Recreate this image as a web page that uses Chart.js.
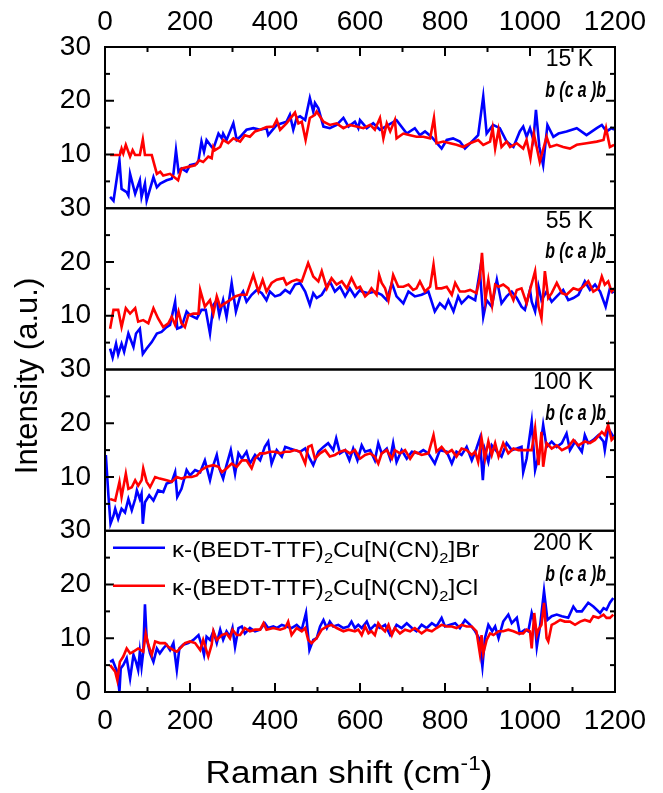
<!DOCTYPE html>
<html>
<head>
<meta charset="utf-8">
<title>Raman spectra - kappa-(BEDT-TTF)2Cu[N(CN)2]X</title>
<script src="https://cdn.jsdelivr.net/npm/chart.js@4.4.1/dist/chart.umd.min.js"></script>
<style>
  html, body { margin: 0; padding: 0; background: #fff; }
  #wrap { width: 663px; height: 793px; position: relative; }
</style>
</head>
<body>
<div id="wrap"><canvas id="ramanChart"></canvas></div>
<script>
// [Raman shift (cm-1), intensity (a.u.)], one array per panel and salt
const br15 = [[12,2.1],[20,1.4],[34,8.9],[39,3.6],[51,3.0],[55,2.4],[59,6.4],[71,2.7],[82,5.2],[86,2.1],[94,4.6],[98,1.4],[114,5.8],[122,3.9],[130,4.6],[145,5.2],[157,5.5],[161,6.4],[167,10.8],[173,6.8],[180,7.4],[192,6.8],[200,8.0],[216,8.3],[220,8.9],[227,12.4],[233,10.5],[239,12.7],[251,11.4],[255,11.1],[267,13.9],[275,13.0],[278,13.9],[286,12.7],[302,15.8],[310,12.7],[318,13.3],[333,14.6],[349,14.9],[365,14.6],[380,14.9],[384,13.6],[404,15.5],[427,16.1],[435,17.4],[443,14.6],[451,16.8],[459,17.1],[471,16.4],[482,20.5],[490,18.0],[494,19.6],[502,18.6],[514,15.2],[529,14.9],[545,15.5],[561,16.8],[573,15.2],[588,16.1],[596,14.9],[600,16.4],[616,14.9],[631,15.8],[647,14.6],[667,15.5],[686,16.4],[710,13.9],[729,14.9],[741,13.6],[753,14.3],[768,13.3],[792,11.1],[804,12.7],[819,13.0],[835,12.4],[847,11.1],[867,12.7],[878,13.6],[890,20.8],[898,13.9],[913,15.5],[929,14.9],[945,12.4],[961,11.4],[976,14.3],[984,15.2],[992,13.3],[1000,14.9],[1008,12.7],[1014,18.3],[1022,11.4],[1031,8.0],[1041,15.5],[1055,13.3],[1067,13.9],[1086,14.3],[1110,14.9],[1133,13.6],[1157,14.9],[1169,15.5],[1180,14.3],[1192,14.9],[1198,14.6]];
const cl15 = [[12,9.9],[35,9.9],[39,11.1],[43,10.2],[49,11.8],[59,9.6],[65,10.8],[71,9.9],[82,9.9],[89,12.8],[94,9.9],[110,9.9],[122,6.4],[130,6.8],[137,6.1],[153,6.4],[172,5.2],[180,7.4],[196,7.7],[212,8.0],[222,8.9],[231,8.6],[243,9.6],[251,9.3],[255,11.4],[259,10.8],[271,11.4],[278,12.7],[290,12.1],[302,13.0],[318,12.4],[329,13.6],[341,13.3],[353,14.3],[365,14.6],[380,15.1],[396,15.2],[404,16.4],[412,14.6],[427,15.8],[447,17.8],[455,15.8],[463,16.1],[472,12.7],[482,16.8],[494,17.4],[498,18.0],[514,16.1],[529,15.5],[545,15.8],[561,14.9],[576,15.5],[592,15.2],[608,14.9],[624,15.5],[635,14.6],[647,16.8],[655,13.0],[663,15.8],[671,14.3],[682,16.4],[686,13.0],[702,13.9],[718,13.6],[733,13.3],[749,13.3],[765,13.0],[774,16.8],[780,12.1],[796,12.4],[812,12.1],[827,11.8],[843,11.4],[859,12.1],[878,12.7],[890,11.8],[906,12.4],[912,14.9],[918,11.1],[926,14.6],[933,11.4],[945,12.4],[953,11.4],[969,12.1],[984,11.1],[992,12.7],[1001,9.3],[1009,13.9],[1023,8.6],[1039,13.3],[1047,11.4],[1063,11.8],[1078,11.4],[1094,11.1],[1110,11.8],[1133,12.1],[1157,12.4],[1173,12.7],[1179,14.9],[1188,11.4],[1198,11.8]];
const br55 = [[12,3.9],[18,2.2],[26,4.8],[31,2.8],[39,4.8],[45,3.3],[55,6.7],[67,4.2],[73,6.7],[82,7.6],[89,2.9],[98,3.9],[110,5.1],[122,6.7],[133,7.0],[145,7.9],[153,8.3],[165,12.6],[170,7.6],[180,7.9],[192,10.8],[200,10.1],[216,9.5],[227,11.1],[237,11.1],[247,6.7],[255,12.0],[263,12.9],[269,10.1],[278,12.9],[286,9.8],[298,16.1],[308,10.8],[318,13.6],[325,14.5],[333,12.6],[345,13.9],[357,14.8],[369,14.2],[380,12.9],[388,14.5],[400,13.6],[412,13.9],[424,14.8],[435,14.2],[447,15.8],[459,16.1],[471,14.5],[482,12.0],[490,14.2],[498,13.3],[510,13.9],[529,16.4],[541,14.5],[553,15.4],[565,13.6],[576,15.1],[588,13.6],[600,14.8],[604,14.5],[620,14.2],[635,14.5],[651,13.9],[663,12.9],[675,16.1],[686,13.6],[702,12.3],[714,14.5],[729,13.6],[745,13.9],[761,14.5],[776,10.8],[788,12.3],[800,11.4],[808,12.9],[820,10.8],[831,13.6],[839,12.3],[855,13.6],[871,12.9],[882,18.3],[890,9.8],[898,12.9],[910,11.7],[922,16.7],[933,12.3],[945,13.6],[957,14.5],[969,13.3],[980,11.7],[988,11.1],[1000,14.8],[1004,12.6],[1012,10.8],[1020,15.4],[1027,12.9],[1039,14.5],[1051,12.6],[1063,13.6],[1078,14.8],[1090,12.9],[1102,13.3],[1114,13.9],[1129,16.4],[1141,14.8],[1153,15.8],[1165,14.5],[1178,11.7],[1188,15.1],[1196,14.2]];
const cl55 = [[12,7.6],[20,11.1],[31,11.1],[39,7.9],[49,11.4],[59,10.4],[71,11.4],[78,8.9],[90,9.2],[102,8.6],[114,11.4],[125,9.5],[137,7.9],[149,8.6],[157,9.8],[165,8.3],[173,10.8],[180,8.6],[188,7.9],[196,10.1],[208,10.4],[220,10.4],[224,14.8],[235,11.7],[247,12.9],[255,10.4],[263,13.6],[271,11.7],[282,12.3],[294,12.9],[306,13.6],[318,13.9],[333,13.9],[349,17.6],[361,14.5],[371,16.7],[380,14.5],[392,16.1],[404,16.7],[420,17.0],[427,15.8],[439,16.4],[451,16.7],[463,16.4],[478,19.8],[490,17.3],[502,16.4],[510,18.3],[522,15.1],[533,17.0],[545,15.8],[557,16.4],[569,15.1],[580,17.0],[592,15.1],[600,15.4],[612,13.6],[620,14.2],[627,15.1],[639,13.9],[645,17.6],[651,16.1],[659,15.1],[667,12.9],[678,17.6],[690,15.4],[702,15.4],[714,15.8],[725,14.8],[733,15.1],[741,16.4],[753,14.5],[765,15.4],[773,19.5],[780,15.1],[792,15.1],[804,15.4],[816,13.9],[824,16.1],[835,14.5],[847,14.5],[859,14.8],[874,14.2],[882,17.0],[887,21.7],[895,12.9],[902,16.7],[911,12.0],[918,15.8],[926,15.4],[937,15.8],[949,15.1],[961,12.9],[969,14.8],[980,15.1],[992,12.3],[1000,14.8],[1012,18.3],[1020,11.7],[1027,9.5],[1035,18.3],[1043,13.3],[1051,14.2],[1063,16.1],[1075,14.2],[1086,13.9],[1102,15.1],[1114,14.8],[1125,15.4],[1137,16.4],[1149,14.5],[1161,15.1],[1169,17.3],[1176,15.8],[1184,16.4],[1192,14.5],[1199,15.1]];
const br100 = [[2,14.1],[8,6.6],[13,1.3],[20,2.8],[24,4.1],[31,2.2],[39,4.1],[47,3.4],[55,5.9],[63,3.8],[71,5.9],[75,7.5],[82,5.9],[86,6.9],[89,1.3],[94,5.3],[104,6.6],[114,5.6],[125,7.5],[137,7.2],[145,8.8],[157,9.1],[165,10.9],[170,6.3],[180,7.8],[192,11.3],[200,10.3],[212,11.3],[224,10.9],[235,13.1],[247,9.4],[255,12.2],[263,14.1],[269,11.6],[278,9.7],[286,12.2],[296,15.0],[306,10.6],[314,14.4],[322,13.4],[333,14.7],[341,12.5],[353,14.1],[365,13.1],[376,15.6],[384,16.6],[392,12.5],[404,15.0],[416,13.8],[424,15.6],[435,15.3],[447,15.0],[459,14.7],[471,15.3],[482,13.4],[490,12.2],[502,14.7],[514,15.6],[525,16.3],[537,15.0],[544,17.2],[553,14.4],[565,15.0],[575,13.1],[584,15.3],[594,13.1],[604,15.9],[612,14.7],[624,15.0],[635,13.1],[643,16.3],[651,14.4],[663,15.3],[671,13.4],[678,16.3],[686,12.8],[698,15.0],[710,13.4],[722,14.7],[737,14.4],[749,15.0],[761,14.4],[776,12.5],[788,15.0],[804,14.7],[816,12.5],[827,14.7],[839,14.1],[851,15.6],[863,13.1],[874,15.3],[882,17.2],[889,9.4],[894,15.0],[902,12.8],[910,15.9],[922,14.7],[933,13.8],[945,16.3],[957,15.0],[969,15.3],[980,15.6],[984,10.9],[992,13.4],[1004,20.3],[1012,11.3],[1024,15.3],[1031,19.7],[1039,15.6],[1051,16.6],[1063,15.6],[1075,16.3],[1086,18.1],[1094,15.0],[1106,16.6],[1122,14.7],[1129,17.8],[1137,16.3],[1149,16.9],[1161,17.8],[1173,16.6],[1176,15.0],[1184,19.1],[1196,17.5]];
const cl100 = [[12,5.9],[24,5.6],[34,9.1],[39,6.3],[49,10.6],[55,7.8],[63,8.1],[71,9.4],[78,8.4],[86,9.4],[90,11.6],[98,9.1],[106,8.1],[118,10.0],[129,9.7],[145,9.4],[157,9.1],[169,10.0],[180,9.7],[192,10.0],[204,10.0],[216,10.3],[227,11.3],[239,11.9],[255,12.2],[267,11.9],[275,10.9],[286,11.6],[298,12.5],[310,11.9],[322,13.1],[333,13.1],[345,11.6],[353,13.4],[365,14.4],[376,14.4],[388,14.7],[400,14.7],[412,14.4],[424,14.7],[435,14.7],[447,15.0],[459,14.7],[471,12.5],[478,15.6],[486,15.9],[494,13.4],[506,14.4],[518,15.0],[529,13.8],[541,14.1],[553,14.7],[565,15.0],[576,14.4],[588,15.0],[600,13.4],[612,14.1],[624,14.4],[635,13.8],[643,12.5],[651,14.4],[663,15.0],[675,13.4],[682,15.0],[694,14.4],[706,15.0],[718,13.4],[729,14.7],[745,14.1],[761,14.4],[773,17.8],[780,14.7],[792,15.6],[804,14.4],[816,15.0],[827,13.8],[839,15.3],[851,15.0],[863,14.1],[871,14.7],[878,12.8],[886,17.2],[894,13.4],[902,16.6],[910,14.1],[918,16.3],[926,13.8],[937,16.3],[949,14.4],[961,15.3],[973,15.0],[984,15.0],[996,15.0],[1004,15.0],[1012,19.1],[1020,12.2],[1027,18.4],[1031,11.9],[1039,16.3],[1051,15.3],[1063,15.9],[1075,15.0],[1090,15.6],[1102,16.9],[1114,15.9],[1129,16.6],[1141,16.3],[1153,16.9],[1169,18.4],[1176,17.8],[1184,19.7],[1192,16.9],[1199,17.5]];
const br200 = [[12,5.6],[18,5.9],[24,4.7],[29,3.8],[34,0.0],[37,4.4],[43,5.0],[51,6.3],[59,2.5],[67,6.9],[73,5.6],[78,4.1],[82,7.5],[86,4.7],[90,7.5],[94,16.3],[98,10.0],[106,7.2],[114,5.6],[122,8.1],[129,7.2],[137,8.1],[145,8.8],[153,7.8],[161,9.1],[169,4.1],[175,8.1],[184,8.8],[196,9.1],[208,9.7],[220,10.6],[227,8.8],[233,6.9],[239,10.3],[247,9.7],[255,11.3],[263,9.1],[271,11.6],[278,9.7],[286,11.3],[294,10.3],[300,11.9],[306,8.4],[314,11.9],[322,12.2],[329,10.9],[341,11.9],[353,11.3],[365,11.6],[376,12.8],[384,11.9],[396,12.2],[404,11.9],[416,12.5],[427,12.2],[439,11.9],[451,12.5],[463,11.6],[473,14.7],[481,7.8],[490,9.7],[498,10.0],[506,12.2],[514,13.4],[522,11.9],[529,13.1],[537,12.2],[549,12.5],[561,11.9],[573,12.2],[580,13.1],[588,11.9],[596,12.5],[604,11.9],[616,13.1],[624,11.6],[635,12.5],[647,11.9],[659,12.5],[671,10.6],[678,11.3],[686,12.5],[698,11.9],[710,12.8],[722,11.9],[733,11.3],[745,12.5],[757,11.9],[769,12.8],[780,12.2],[792,13.8],[800,12.2],[812,12.5],[824,12.8],[835,11.9],[847,13.4],[859,12.5],[871,11.3],[880,10.0],[888,4.7],[894,10.0],[902,12.5],[911,11.3],[918,12.2],[926,10.0],[937,13.1],[949,14.4],[957,12.8],[969,13.8],[976,10.9],[988,11.6],[996,11.3],[1004,14.7],[1012,12.5],[1016,8.4],[1024,12.5],[1033,18.8],[1041,13.4],[1051,14.1],[1063,14.4],[1075,14.1],[1090,13.8],[1102,15.9],[1110,15.0],[1122,15.0],[1137,16.6],[1149,15.9],[1165,14.7],[1173,15.6],[1180,15.3],[1188,16.6],[1196,17.5]];
const cl200 = [[12,5.0],[24,3.8],[29,2.2],[35,5.6],[43,6.6],[51,8.1],[59,7.2],[67,7.5],[78,8.1],[90,7.5],[96,10.9],[102,8.8],[110,6.9],[118,9.4],[129,9.1],[141,9.1],[149,8.4],[161,7.8],[169,7.5],[180,8.4],[188,9.1],[200,9.4],[212,9.1],[224,7.8],[231,9.7],[243,6.6],[251,8.8],[255,11.3],[263,9.7],[275,10.6],[286,10.9],[294,10.0],[300,11.6],[310,10.6],[318,10.6],[329,11.9],[341,11.3],[353,11.6],[365,11.6],[373,12.8],[380,11.6],[396,11.9],[412,11.6],[424,11.9],[431,13.1],[439,10.6],[451,11.9],[463,11.3],[471,11.9],[478,9.7],[486,9.1],[498,10.0],[510,11.6],[522,12.2],[533,12.5],[545,11.9],[561,11.3],[573,11.6],[588,11.3],[596,11.6],[604,10.6],[612,12.2],[620,10.9],[627,11.3],[635,10.6],[643,12.8],[651,11.9],[659,11.3],[667,12.5],[675,10.6],[682,11.9],[694,10.9],[706,11.6],[718,11.3],[729,11.9],[745,10.9],[757,11.6],[769,11.3],[780,11.9],[792,12.5],[804,12.2],[816,12.2],[827,11.9],[839,12.5],[851,12.2],[863,12.2],[874,11.3],[882,7.2],[886,10.6],[890,7.2],[898,9.7],[906,10.9],[914,10.6],[926,11.3],[937,11.3],[949,11.6],[961,11.3],[973,10.9],[984,10.9],[992,11.6],[1000,11.3],[1004,8.1],[1010,14.7],[1016,10.6],[1020,11.6],[1027,12.5],[1033,16.6],[1039,10.0],[1043,9.4],[1051,12.5],[1059,12.8],[1071,13.4],[1082,13.1],[1094,13.1],[1106,12.5],[1118,13.1],[1129,13.4],[1141,13.1],[1149,14.1],[1161,13.8],[1173,14.4],[1180,13.8],[1188,13.8],[1196,14.4]];

const panelIds = ['y15', 'y55', 'y100', 'y200'];          // top to bottom
const panelTemps = ['15 K', '55 K', '100 K', '200 K'];
const panelSeries = [[br15, cl15], [br55, cl55], [br100, cl100], [br200, cl200]];
const geometry = 'b (c a )b';
const xTickValues = [0, 200, 400, 600, 800, 1000, 1200];
const yTickValues = [0, 10, 20, 30];
const brName = ['κ-(BEDT-TTF)', '2', 'Cu[N(CN)', '2', ']Br'];   // odd parts are subscripts
const clName = ['κ-(BEDT-TTF)', '2', 'Cu[N(CN)', '2', ']Cl'];

const FONT = '"Liberation Sans", Arial, sans-serif';
const BLUE = '#0000ff';
const RED = '#ff0000';

Chart.defaults.font.family = FONT;
Chart.defaults.color = '#000';

function makeSet(points, axisId, color, order) {
    return {
        data: points.map(p => ({ x: p[0], y: p[1] })),
        xAxisID: 'x',
        yAxisID: axisId,
        borderColor: color,
        borderWidth: 2.6,
        pointRadius: 0,
        tension: 0,
        fill: false,
        order: order
    };
}

const datasets = [];
panelIds.forEach((id, i) => {
    datasets.push(makeSet(panelSeries[i][0], id, BLUE, 1));
    datasets.push(makeSet(panelSeries[i][1], id, RED, 0));   // red sits on top of blue
});

function xAxis(pos, boxHeight, pad) {
    return {
        type: 'linear', position: pos, min: 0, max: 1200,
        grid: { display: false, drawTicks: false },
        border: { display: false },
        afterBuildTicks: s => { s.ticks = xTickValues.map(v => ({ value: v })); },
        ticks: { autoSkip: false, maxRotation: 0, padding: pad, font: { size: 28 }, callback: v => String(v) },
        afterFit: s => { s.height = boxHeight; }
    };
}

function yAxis(showZero) {
    return {
        type: 'linear', position: 'left', stack: 'panels', stackWeight: 1,
        min: 0, max: 30,
        grid: { display: false, drawTicks: false },
        border: { display: false },
        afterBuildTicks: s => { s.ticks = yTickValues.map(v => ({ value: v })); },
        ticks: {
            autoSkip: false, padding: 14, font: { size: 28 },
            callback: v => (v === 0 && !showZero) ? '' : String(v)
        },
        afterFit: s => { s.width = 105; }
    };
}

// stacked left axes are laid out last-declared-on-top, so declare bottom panel first
const scales = { x: xAxis('bottom', 101, 12), x2: xAxis('top', 47, 8) };
panelIds.slice().reverse().forEach(id => { scales[id] = yAxis(id === 'y200'); });

function line(ctx, x1, y1, x2, y2) {
    ctx.beginPath();
    ctx.moveTo(x1, y1);
    ctx.lineTo(x2, y2);
    ctx.stroke();
}

// text made of alternating normal / shifted runs (subscripts or superscripts)
function drawRuns(ctx, parts, x, y, size, smallSize, shift) {
    parts.forEach((p, i) => {
        const small = i % 2 === 1;
        ctx.font = (small ? smallSize : size) + 'px ' + FONT;
        ctx.fillText(p, x, small ? y + shift : y);
        x += ctx.measureText(p).width;
    });
    return x;
}

function runsWidth(ctx, parts, size, smallSize) {
    let w = 0;
    parts.forEach((p, i) => {
        ctx.font = ((i % 2 === 1) ? smallSize : size) + 'px ' + FONT;
        w += ctx.measureText(p).width;
    });
    return w;
}

const framePlugin = {
    id: 'frame',
    afterDatasetsDraw(chart) {
        const { ctx, chartArea: a, scales: sc } = chart;
        ctx.save();
        ctx.strokeStyle = '#000';
        ctx.fillStyle = '#000';
        ctx.lineWidth = 2;

        // panel boxes and inward ticks
        panelIds.forEach(id => {
            const s = sc[id];
            ctx.strokeRect(a.left, s.top, a.right - a.left, s.bottom - s.top);
            for (let v = 5; v < 30; v += 5) {
                const py = s.getPixelForValue(v);
                const len = v % 10 === 0 ? 9 : 5;
                line(ctx, a.left, py, a.left + len, py);
                line(ctx, a.right, py, a.right - len, py);
            }
        });
        for (let v = 100; v < 1200; v += 100) {
            const px = sc.x.getPixelForValue(v);
            const len = v % 200 === 0 ? 9 : 5;
            line(ctx, px, a.bottom, px, a.bottom - len);
            line(ctx, px, a.top, px, a.top + len);
        }

        // temperature and scattering geometry in each panel
        panelIds.forEach((id, i) => {
            const s = sc[id];
            ctx.textAlign = 'right';
            ctx.textBaseline = 'middle';
            ctx.font = '23px ' + FONT;
            ctx.fillText(panelTemps[i], a.right - 22, s.top + 13);
            ctx.save();
            ctx.translate(a.right - 9, s.top + 44);
            ctx.scale(0.72, 1);
            ctx.font = 'italic bold 22px ' + FONT;
            ctx.fillText(geometry, 0, 0);
            ctx.restore();
        });

        // legend in the bottom panel (text a little wider than the font, as in the figure)
        const lp = sc.y200;
        ctx.textAlign = 'left';
        ctx.textBaseline = 'middle';
        ctx.lineWidth = 2.6;
        ctx.strokeStyle = BLUE;
        line(ctx, a.left + 8, lp.top + 17, a.left + 60, lp.top + 17);
        ctx.strokeStyle = RED;
        line(ctx, a.left + 8, lp.top + 55, a.left + 60, lp.top + 55);
        [brName, clName].forEach((name, k) => {
            ctx.save();
            ctx.translate(a.left + 67, lp.top + 20 + 38 * k);
            ctx.scale(1.1, 1);
            drawRuns(ctx, name, 0, 0, 22, 15, 8);
            ctx.restore();
        });

        // axis titles
        ctx.textBaseline = 'alphabetic';
        const xt = ['Raman shift (cm', '-1', ')'];
        const w = runsWidth(ctx, xt, 31, 20) * 1.13;
        ctx.save();
        ctx.translate(349 - w / 2, 783);
        ctx.scale(1.13, 1);
        drawRuns(ctx, xt, 0, 0, 31, 20, -13);
        ctx.restore();

        ctx.save();
        ctx.translate(37, 376);
        ctx.rotate(-Math.PI / 2);
        ctx.textAlign = 'center';
        ctx.font = '31px ' + FONT;
        ctx.fillText('Intensity (a.u.)', 0, 0);
        ctx.restore();

        ctx.restore();
    }
};

new Chart(document.getElementById('ramanChart'), {
    type: 'line',
    data: { datasets: datasets },
    options: {
        responsive: true,
        maintainAspectRatio: false,
        animation: false,
        layout: { padding: { left: 0, right: 48, top: 0, bottom: 0 } },
        plugins: { legend: { display: false }, tooltip: { enabled: false } },
        scales: scales
    },
    plugins: [framePlugin]
});
</script>
</body>
</html>
